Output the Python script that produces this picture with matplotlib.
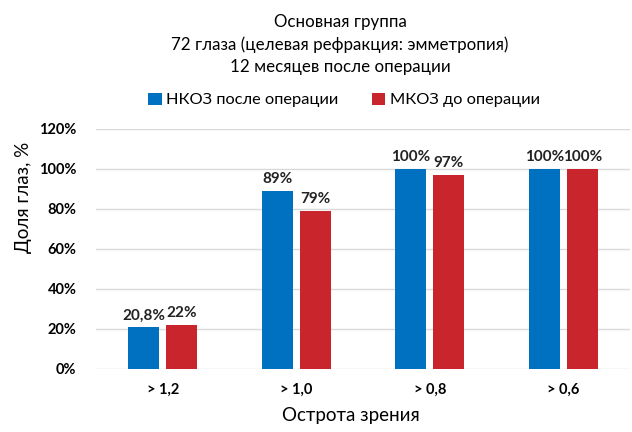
import matplotlib.pyplot as plt
import numpy as np

plt.rcParams['font.family'] = ['Lato', 'DejaVu Sans']

# Data
categories = ["> 1,2", "> 1,0", "> 0,8", "> 0,6"]
nkoz_after = [20.8, 89, 100, 100]
mkoz_before = [22, 79, 97, 100]
nkoz_labels = ["20,8%", "89%", "100%", "100%"]
mkoz_labels = ["22%", "79%", "97%", "100%"]
series_names = ["НКОЗ после операции", "МКОЗ до операции"]

blue = "#0070C0"
red = "#C9252C"

fig = plt.figure(figsize=(6.32, 4.32), dpi=100)
ax = fig.add_axes([96 / 632, (432 - 369) / 432, 534 / 632, 240 / 432])

x = np.arange(len(categories))
w = 0.23
off = 0.142
b1 = ax.bar(x - off, nkoz_after, w, color=blue, label=series_names[0], zorder=3)
b2 = ax.bar(x + off, mkoz_before, w, color=red, label=series_names[1], zorder=3)

# value labels
for bars, labels in [(b1, nkoz_labels), (b2, mkoz_labels)]:
    for rect, lab in zip(bars, labels):
        ax.text(rect.get_x() + rect.get_width() / 2, rect.get_height() + 2.5, lab,
                ha="center", va="bottom", fontsize=11, fontweight="bold", color="#222222")

ax.set_xlim(-0.5, len(categories) - 0.5)
ax.set_ylim(0, 120)
ax.set_yticks(range(0, 121, 20))
ax.set_yticklabels([f"{v}%" for v in range(0, 121, 20)], fontsize=10.5, fontweight="bold")
ax.set_xticks(x)
ax.set_xticklabels(categories, fontsize=10.5, fontweight="bold")
ax.tick_params(length=0, pad=10)
ax.tick_params(axis="y", pad=14)
ax.grid(axis="y", color="#D9D9D9", linewidth=1, zorder=0)
for s in ax.spines.values():
    s.set_visible(False)

ax.set_xlabel("Острота зрения", fontsize=13.5)
ax.xaxis.set_label_coords(255 / 534, -0.16)
ax.set_ylabel("Доля глаз, %", fontsize=13.5)
ax.yaxis.set_label_coords(-64 / 534, (369 - 197) / 240)

# title
title_x = 340 / 632
fig.text(title_x, 1 - 22 / 432, "Основная группа", ha="center", va="center", fontsize=12.2)
fig.text(title_x, 1 - 45 / 432, "72 глаза (целевая рефракция: эмметропия)", ha="center", va="center", fontsize=12.2)
fig.text(title_x, 1 - 67 / 432, "12 месяцев после операции", ha="center", va="center", fontsize=12.2)

fig.legend(handles=[b1, b2], loc="center", bbox_to_anchor=(344 / 632, 1 - 100 / 432), ncol=2,
           frameon=False, fontsize=11.8, handlelength=0.8, handleheight=0.8,
           handletextpad=0.3, columnspacing=2.0)

fig.savefig("out.png", dpi=100)
